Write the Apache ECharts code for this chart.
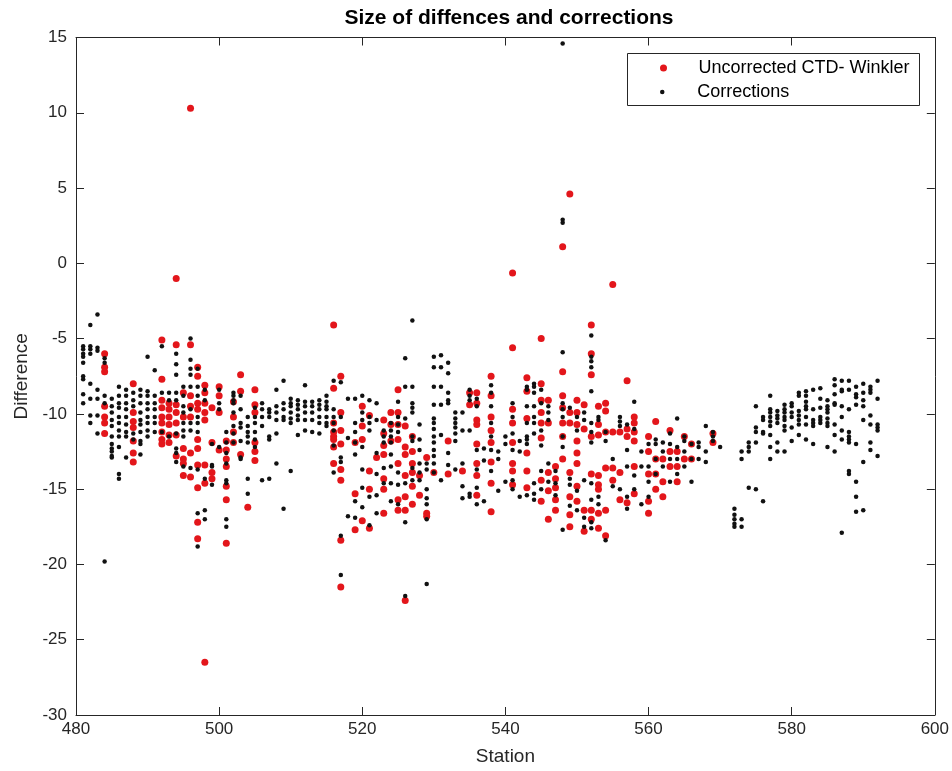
<!DOCTYPE html>
<html>
<head>
<meta charset="utf-8">
<title>Size of diffences and corrections</title>
<script src="https://cdn.jsdelivr.net/npm/echarts@6/dist/echarts.min.js"></script>
<style>
  html, body { margin: 0; padding: 0; background: #fff; }
  #chart { width: 952px; height: 771px; }
</style>
</head>
<body>
<div id="chart"></div>
<script>
// axis ticks
const stationTicks = [480, 500, 520, 540, 560, 580, 600];
const differenceTicks = [-30, -25, -20, -15, -10, -5, 0, 5, 10, 15];

// Corrections (black), one list of values per station
const corrStations = [
  481, 482, 483, 484, 485, 486, 487, 488, 489, 490,
  491, 492, 493, 494, 495, 496, 497, 498, 499, 500,
  501, 502, 503, 504, 505, 506, 507, 508, 509, 510,
  511, 512, 513, 514, 515, 516, 517, 518, 519, 520,
  521, 522, 523, 524, 525, 526, 527, 528, 529, 530,
  531, 532, 533, 534, 535, 536, 537, 538, 539, 540,
  541, 542, 543, 544, 545, 546, 547, 548, 549, 550,
  551, 552, 553, 554, 555, 556, 557, 558, 559, 560,
  561, 562, 563, 564, 565, 566, 567, 568, 569, 570,
  572, 573, 574, 575, 576, 577, 578, 579, 580, 581,
  582, 583, 584, 585, 586, 587, 588, 589, 590, 591,
  592
];
const corrValues = [
  [-5.5, -5.7, -6.0, -6.2, -6.6, -7.5, -7.7, -8.7, -9.3],
  [-4.1, -5.5, -5.7, -6.0, -8.0, -9.0, -10.1, -10.6],
  [-3.4, -5.6, -5.8, -8.4, -9.0, -10.1, -11.3],
  [-6.3, -6.6, -8.8, -9.3, -19.8],
  [-9.0, -9.5, -9.9, -10.4, -10.8, -11.5, -12.0, -12.3, -12.5, -12.8, -12.9],
  [-8.2, -8.8, -9.3, -9.6, -10.2, -10.6, -11.1, -11.5, -12.2, -14.0, -14.3],
  [-8.4, -8.8, -9.3, -9.7, -10.2, -10.7, -11.2, -11.5, -12.9],
  [-8.6, -9.1, -9.5, -11.3, -11.7],
  [-8.4, -8.8, -9.3, -9.9, -10.4, -10.7, -11.2, -11.8, -12.0, -12.7],
  [-6.2, -8.5, -8.8, -9.3, -9.7, -10.2, -10.6, -11.1, -11.5],
  [-7.1, -8.8, -9.3, -9.7, -10.2, -10.6, -11.2],
  [-5.5, -8.6, -11.2],
  [-8.6, -9.1, -11.5],
  [-6.0, -6.7, -7.4, -8.6, -9.1, -11.3, -12.3, -12.6, -13.2],
  [-8.2, -8.8, -9.5, -9.9, -10.6, -11.1, -11.5, -13.5],
  [-5.0, -6.4, -7.0, -7.4, -8.2, -9.7, -10.6, -11.1, -13.6],
  [-7.0, -8.2, -8.8, -10.2, -10.6, -11.2, -13.7, -16.6, -18.8],
  [-8.4, -9.1, -14.3, -16.4, -17.0],
  [-12.0, -13.4, -13.5, -14.7],
  [-8.4, -9.3, -9.7, -12.2],
  [-11.2, -11.9, -12.6, -13.3, -14.4, -14.6, -17.0, -17.5],
  [-8.6, -8.8, -9.1, -9.3, -9.9, -10.8, -11.3, -11.9],
  [-8.8, -9.7, -10.6, -10.9, -11.8, -12.9, -13.0],
  [-10.2, -10.8, -11.2, -11.5, -11.9, -14.3, -15.3],
  [-9.6, -10.2, -10.6, -11.2, -11.7, -12.2],
  [-9.3, -9.7, -10.2, -10.8, -14.4],
  [-9.7, -9.9, -10.2, -11.5, -11.7, -14.3],
  [-8.4, -9.5, -9.9, -10.4, -11.3, -13.3],
  [-7.8, -9.3, -9.7, -10.2, -10.4, -16.3],
  [-9.0, -9.3, -9.5, -9.9, -10.3, -10.6, -13.8],
  [-9.1, -9.4, -9.7, -10.1, -10.4, -11.4],
  [-8.1, -9.2, -9.5, -9.9, -10.4, -11.1],
  [-9.2, -9.5, -9.9, -10.4, -11.2],
  [-9.1, -9.4, -9.7, -10.2, -10.6, -11.3],
  [-8.8, -9.2, -9.5, -9.7, -10.2, -10.6, -10.8],
  [-7.8, -9.7, -10.2, -10.6, -11.1, -12.1, -13.9],
  [-7.9, -10.2, -12.9, -13.2, -18.1, -20.7],
  [-9.0, -11.6, -16.8],
  [-9.0, -10.6, -11.2, -11.9, -12.7, -15.8, -16.9],
  [-8.8, -9.9, -10.4, -12.2, -13.7, -14.9, -16.2],
  [-9.1, -10.2, -10.6, -11.1, -15.5, -17.4],
  [-9.3, -10.4, -12.6, -14.0, -15.4, -16.6],
  [-11.1, -11.5, -11.9, -13.6, -14.6],
  [-10.6, -11.1, -11.5, -11.9, -12.7, -13.5, -14.6, -15.8],
  [-9.2, -10.2, -10.7, -11.2, -13.9, -14.7, -16.0],
  [-6.3, -8.2, -10.3, -14.6, -17.2, -22.1],
  [-3.8, -8.2, -9.3, -9.6, -9.9, -11.5, -11.8, -13.6, -14.4],
  [-10.7, -11.7, -12.4, -13.3, -13.9, -14.4],
  [-13.3, -13.7, -15.0, -15.6, -16.0, -17.0, -21.3],
  [-6.2, -6.9, -8.2, -9.4, -10.3, -10.6, -11.0, -11.5, -11.9, -12.4, -12.8, -13.3, -13.9],
  [-6.1, -6.9, -8.2, -9.4, -11.4, -14.4],
  [-6.6, -7.3, -8.6, -9.1, -9.3, -12.6, -13.4],
  [-9.9, -10.3, -10.6, -10.9, -11.3, -11.8, -13.7],
  [-9.9, -11.1, -13.3, -14.8, -15.6],
  [-8.4, -8.8, -9.1, -11.1, -15.3, -15.5],
  [-9.0, -9.5, -12.4, -13.7, -14.9, -16.0],
  [-12.3, -13.1, -15.8],
  [-8.1, -8.6, -9.5, -10.6, -11.5, -12.4, -13.8],
  [-12.5, -13.0, -15.1],
  [-11.5, -12.0, -14.5],
  [-9.3, -10.2, -11.3, -12.4, -14.4, -15.0],
  [-11.8, -12.5, -15.5],
  [-8.2, -8.4, -9.5, -10.6, -11.5, -11.7, -12.0, -15.4],
  [-8.0, -8.2, -8.6, -9.5, -10.2, -10.6, -11.3, -14.6, -15.3, -15.7],
  [-8.4, -9.3, -11.1, -12.1, -13.8, -15.0],
  [-9.5, -9.9, -10.4, -13.3, -14.5],
  [-13.8, -14.6, -15.4],
  [14.6, 2.9, 2.7, -5.9, -9.3, -9.7, -10.2, -11.5, -12.2, -17.7],
  [-9.6, -14.3, -14.7, -16.1],
  [-10.2, -11.1, -15.1, -16.4],
  [-9.9, -10.4, -14.4, -16.9, -17.5],
  [-4.8, -6.2, -6.5, -6.9, -8.5, -10.6, -11.2, -11.9, -14.6, -15.7, -17.2, -17.6],
  [-10.2, -10.4, -15.5, -16.0],
  [-11.2, -11.8, -18.4],
  [-13.0, -14.8],
  [-10.2, -10.5, -10.8, -15.0],
  [-10.7, -12.4, -13.5, -15.5, -16.3],
  [-9.2, -11.0, -14.1, -15.0],
  [-12.5, -13.5, -16.0],
  [-12.0, -13.5, -14.5, -15.5],
  [-11.7, -12.0, -13.0, -14.0],
  [-11.9, -12.5, -13.5],
  [-11.3, -12.0, -13.0, -14.5],
  [-10.3, -12.2, -13.0, -14.0],
  [-11.5, -11.8, -12.5, -13.5],
  [-12.0, -13.0, -14.5],
  [-11.9, -12.2, -13.0],
  [-10.8, -12.5, -13.2],
  [-11.2, -11.5, -11.8],
  [-12.2],
  [-16.3, -16.7, -17.0, -17.3, -17.5],
  [-12.5, -13.0, -17.0, -17.5],
  [-11.9, -12.2, -12.5, -14.9],
  [-9.5, -10.9, -11.2, -11.9, -15.0],
  [-10.2, -10.4, -11.2, -11.3, -15.8],
  [-8.8, -9.7, -9.9, -10.2, -10.5, -10.8, -11.4, -12.2, -13.0],
  [-9.8, -10.1, -10.3, -10.6, -11.9, -12.5],
  [-9.4, -9.7, -9.9, -10.2, -10.4, -10.8, -11.1, -12.5],
  [-9.3, -9.5, -9.9, -10.2, -10.9, -11.8],
  [-8.6, -8.8, -9.8, -10.1, -10.4, -10.7, -11.4],
  [-8.5, -8.8, -9.2, -9.5, -9.7, -10.2, -10.7, -11.7],
  [-8.4, -9.7, -10.4, -10.6, -10.8, -12.0],
  [-8.3, -9.0, -9.6, -10.2, -10.4, -10.6],
  [-9.1, -9.5, -9.7, -9.9, -10.3, -10.6, -10.8, -12.2],
  [-7.7, -8.1, -8.7, -9.3, -9.4, -10.7, -11.4, -12.5],
  [-7.8, -8.4, -8.5, -9.5, -10.2, -11.1, -11.7, -17.9],
  [-7.8, -8.4, -9.7, -11.2, -11.5, -11.7, -11.9, -13.8, -14.0],
  [-8.2, -8.7, -8.9, -9.4, -12.0, -14.5, -15.5, -16.5],
  [-8.0, -8.6, -9.1, -9.5, -10.4, -13.2, -16.4],
  [-8.2, -8.4, -8.6, -10.1, -10.7, -11.9, -12.4],
  [-7.8, -9.0, -10.7, -10.9, -11.1, -12.8]
];

// Uncorrected CTD - Winkler (red), one list of values per station
const rawStations = [
  484, 488, 492, 493, 494, 495, 496, 497, 498, 499,
  500, 501, 502, 503, 504, 505, 516, 517, 519, 520,
  521, 522, 523, 524, 525, 526, 527, 528, 529, 530,
  532, 534, 535, 536, 538, 541, 543, 545, 546, 547,
  548, 549, 550, 551, 552, 553, 554, 555, 556, 557,
  558, 560, 561, 562, 563, 564, 565, 566, 569
];
const rawValues = [
  [-6.0, -6.9, -7.2, -9.5, -10.2, -10.6, -11.3],
  [-8.0, -9.9, -10.5, -10.9, -11.8, -12.6, -13.2],
  [-5.1, -7.7, -9.1, -9.6, -10.2, -10.6, -11.2, -11.7, -12.0],
  [-9.3, -9.7, -10.2, -10.7, -11.4, -11.9],
  [-1.0, -5.4, -9.4, -9.9, -10.6, -11.4, -12.8],
  [-8.6, -10.2, -12.3, -13.0, -13.3, -14.1],
  [10.3, -5.4, -8.8, -9.5, -10.2, -12.6, -14.2],
  [-6.9, -7.5, -9.3, -9.7, -11.7, -12.3, -13.4, -14.9, -17.2, -18.3],
  [-8.1, -8.6, -9.3, -9.9, -10.4, -13.4, -14.6, -26.5],
  [-9.6, -11.9, -13.9, -14.3],
  [-8.2, -8.8, -9.9, -12.4],
  [-11.8, -12.4, -13.0, -13.5, -14.8, -15.7, -18.6],
  [-9.2, -10.2, -11.2, -11.9],
  [-7.4, -8.5, -12.7],
  [-16.2],
  [-8.4, -9.4, -9.9, -11.9, -12.5, -13.1],
  [-4.1, -8.3, -10.6, -11.2, -11.5, -11.7, -12.2, -13.3],
  [-7.5, -9.9, -11.1, -12.0, -13.7, -14.4, -18.4, -21.5],
  [-11.9, -15.3, -17.7],
  [-9.5, -10.8, -11.7, -17.1],
  [-10.1, -13.8, -15.0, -17.6],
  [-12.9],
  [-10.4, -11.3, -12.1, -12.7, -14.3, -15.0, -16.6],
  [-9.9, -10.7, -11.8],
  [-8.4, -9.9, -10.7, -11.7, -13.3, -15.7, -16.4],
  [-10.8, -12.2, -12.7, -14.1, -15.5, -16.4, -22.4],
  [-11.5, -12.5, -13.3, -13.9, -14.8, -16.0],
  [-14.1, -15.4],
  [-12.9, -16.6, -16.8],
  [-13.9],
  [-11.8, -14.0],
  [-13.8],
  [-8.6, -9.4],
  [-8.6, -9.3, -10.4, -10.7, -12.0, -13.3, -14.1, -15.4],
  [-7.5, -8.8, -10.2, -11.1, -11.9, -13.2, -14.6, -16.5],
  [-0.65, -5.6, -9.7, -10.6, -11.9, -13.3, -13.8, -14.7],
  [-7.6, -8.5, -10.3, -12.6, -13.8, -14.9],
  [-5.0, -8.0, -9.1, -9.9, -10.6, -11.6, -14.4, -15.8],
  [-9.1, -10.6, -13.9, -15.1, -17.0],
  [-13.5, -14.3, -14.9, -15.7, -16.4],
  [1.1, -7.2, -8.8, -9.6, -10.6, -11.5, -13.0],
  [4.6, -9.9, -10.6, -13.9, -15.5, -16.7, -17.5],
  [-9.1, -9.9, -10.7, -11.8, -12.6, -13.3, -14.8, -15.8],
  [-9.4, -11.0, -16.4, -17.8],
  [-4.1, -6.0, -7.4, -11.5, -14.0, -16.4, -17.0],
  [-9.5, -10.7, -11.4, -14.1, -14.7, -15.0, -16.6, -17.6],
  [-9.3, -9.8, -11.2, -13.6, -16.4, -18.1],
  [-1.4, -11.2, -13.6, -14.4],
  [-11.2, -13.9, -15.7],
  [-7.8, -11.0, -11.5, -15.9],
  [-10.2, -10.6, -11.2, -11.8, -13.5, -15.3],
  [-11.5, -12.5, -14.0, -15.8, -16.6],
  [-10.5, -13.0, -14.0, -15.0],
  [-13.0, -14.5, -15.5],
  [-11.1, -12.5, -13.5],
  [-12.5, -13.5, -14.5],
  [-11.5, -13.0],
  [-12.0, -13.0],
  [-11.3, -11.9]
];

const toPairs = (stations, values) => {
  const out = [];
  stations.forEach((s, i) => values[i].forEach(v => out.push([s, v])));
  return out;
};

const axisColor = '#262626';
const font = '"Liberation Sans", Arial, Helvetica, sans-serif';

const chart = echarts.init(document.getElementById('chart'), null, { renderer: 'canvas' });

const frameAxis = (extra) => Object.assign({
  type: 'value',
  splitLine: { show: false },
  axisLine: { show: true, onZero: false, lineStyle: { color: axisColor, width: 1 } },
  axisTick: { show: true, inside: true, length: 8, lineStyle: { color: axisColor } },
  axisLabel: { show: false }
}, extra);

chart.setOption({
  animation: false,
  backgroundColor: '#fff',
  textStyle: { fontFamily: font },
  title: {
    text: 'Size of diffences and corrections',
    left: 504,
    top: 3,
    textAlign: 'center',
    textStyle: { fontSize: 21, fontWeight: 'bold', color: '#000', fontFamily: font }
  },
  grid: { left: 76, right: 16, top: 37.5, bottom: 55.5 },
  legend: [
    {
      data: ['Uncorrected CTD- Winkler'],
      left: 660, top: 59, padding: 0,
      itemWidth: 60, itemHeight: 7, icon: 'circle',
      selectedMode: false,
      textStyle: { fontSize: 18, color: '#000', fontFamily: font }
    },
    {
      data: ['Corrections'],
      left: 660, top: 83, padding: 0,
      itemWidth: 60, itemHeight: 4.5, icon: 'circle',
      selectedMode: false,
      textStyle: { fontSize: 18, color: '#000', fontFamily: font }
    }
  ],
  graphic: [{
    type: 'rect',
    shape: { x: 627.5, y: 53.5, width: 292, height: 52 },
    style: { fill: 'none', stroke: axisColor, lineWidth: 1 },
    silent: true
  }],
  xAxis: [
    frameAxis({
      position: 'bottom',
      min: stationTicks[0], max: stationTicks[stationTicks.length - 1],
      interval: stationTicks[1] - stationTicks[0],
      axisLabel: { show: true, fontSize: 17, color: axisColor, margin: 6, fontFamily: font },
      name: 'Station', nameLocation: 'middle', nameGap: 32,
      nameTextStyle: { fontSize: 19, color: axisColor, fontFamily: font }
    }),
    frameAxis({
      position: 'top',
      min: stationTicks[0], max: stationTicks[stationTicks.length - 1],
      interval: stationTicks[1] - stationTicks[0]
    })
  ],
  yAxis: [
    frameAxis({
      position: 'left',
      min: differenceTicks[0], max: differenceTicks[differenceTicks.length - 1],
      interval: differenceTicks[1] - differenceTicks[0],
      axisLabel: { show: true, fontSize: 17, color: axisColor, margin: 9, fontFamily: font },
      name: 'Difference', nameLocation: 'middle', nameGap: 45,
      nameTextStyle: { fontSize: 19, color: axisColor, fontFamily: font }
    }),
    frameAxis({
      position: 'right',
      min: differenceTicks[0], max: differenceTicks[differenceTicks.length - 1],
      interval: differenceTicks[1] - differenceTicks[0]
    })
  ],
  series: [
    {
      name: 'Uncorrected CTD- Winkler',
      type: 'scatter',
      symbol: 'circle',
      symbolSize: 7,
      itemStyle: { color: '#e3161b', opacity: 1 },
      data: toPairs(rawStations, rawValues)
    },
    {
      name: 'Corrections',
      type: 'scatter',
      symbol: 'circle',
      symbolSize: 4.5,
      itemStyle: { color: '#111', opacity: 1 },
      data: toPairs(corrStations, corrValues)
    }
  ]
});
</script>
</body>
</html>
